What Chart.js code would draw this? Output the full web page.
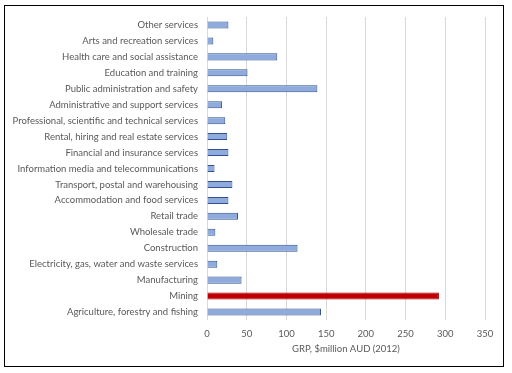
<!DOCTYPE html>
<html lang="en">
<head>
  <meta charset="UTF-8">
  <title>GRP by industry</title>
  <script src="https://cdn.jsdelivr.net/npm/chart.js"></script>
  <style>
    html, body { margin: 0; padding: 0; background: #fff; }
    #wrap { position: relative; width: 512px; height: 373px; }
    #frame {
      position: absolute; left: 4px; top: 5px; width: 500px; height: 362px;
      border: 1px solid #000; box-sizing: border-box;
    }
    #chart { position: absolute; left: 0; top: 0; }
  </style>
</head>
<body>
  <div id="wrap">
    <div id="frame"></div>
    <canvas id="chart" width="512" height="373"></canvas>
  </div>

  <script>
    // Industrias (orden de abajo hacia arriba, como en Excel)
    const industries = [
      'Agriculture, forestry and fishing',
      'Mining',
      'Manufacturing',
      'Electricity, gas, water and waste services',
      'Construction',
      'Wholesale trade',
      'Retail trade',
      'Accommodation and food services',
      'Transport, postal and warehousing',
      'Information media and telecommunications',
      'Financial and insurance services',
      'Rental, hiring and real estate services',
      'Professional, scientific and technical services',
      'Administrative and support services',
      'Public administration and safety',
      'Education and training',
      'Health care and social assistance',
      'Arts and recreation services',
      'Other services'
    ];
    const grpValues = [143.5, 292, 43.5, 13, 114, 10.5, 39, 27, 32, 9.5, 27, 25.5, 23, 19, 139, 51, 88.5, 8, 27];
    const xTicks = [0, 50, 100, 150, 200, 250, 300, 350];
    const highlight = 'Mining';

    const fills = industries.map(n => n === highlight ? '#C00000' : '#8FAADC');
    const borders = industries.map(n => n === highlight ? '#A00000' : '#2F528F');

    const textColor = '#595959';
    const font = { family: 'Lato', size: 9.5 };

    new Chart(document.getElementById('chart'), {
      type: 'bar',
      data: {
        labels: industries,
        datasets: [{
          data: grpValues,
          backgroundColor: fills,
          borderColor: borders,
          borderWidth: 1,
          categoryPercentage: 1,
          barPercentage: 0.44
        }]
      },
      options: {
        indexAxis: 'y',
        responsive: false,
        animation: false,
        layout: { padding: { top: 17, right: 27, left: 0, bottom: 18 } },
        plugins: { legend: { display: false }, tooltip: { enabled: false } },
        scales: {
          x: {
            min: 0, max: 350,
            afterBuildTicks: s => { s.ticks = xTicks.map(v => ({ value: v })); },
            afterFit: s => { s.height = 373 - 320 - 18; },
            grid: { color: '#D9D9D9', drawTicks: false },
            border: { display: false },
            ticks: { color: textColor, font: font, padding: 8 },
            title: { display: true, text: 'GRP, $million AUD (2012)', color: textColor, font: font, padding: 0 }
          },
          y: {
            reverse: true,
            afterFit: s => { s.width = 207; },
            grid: { display: false, drawTicks: false },
            border: { display: false },
            ticks: { color: textColor, font: font, padding: 9, autoSkip: false }
          }
        }
      }
    });
  </script>
</body>
</html>
